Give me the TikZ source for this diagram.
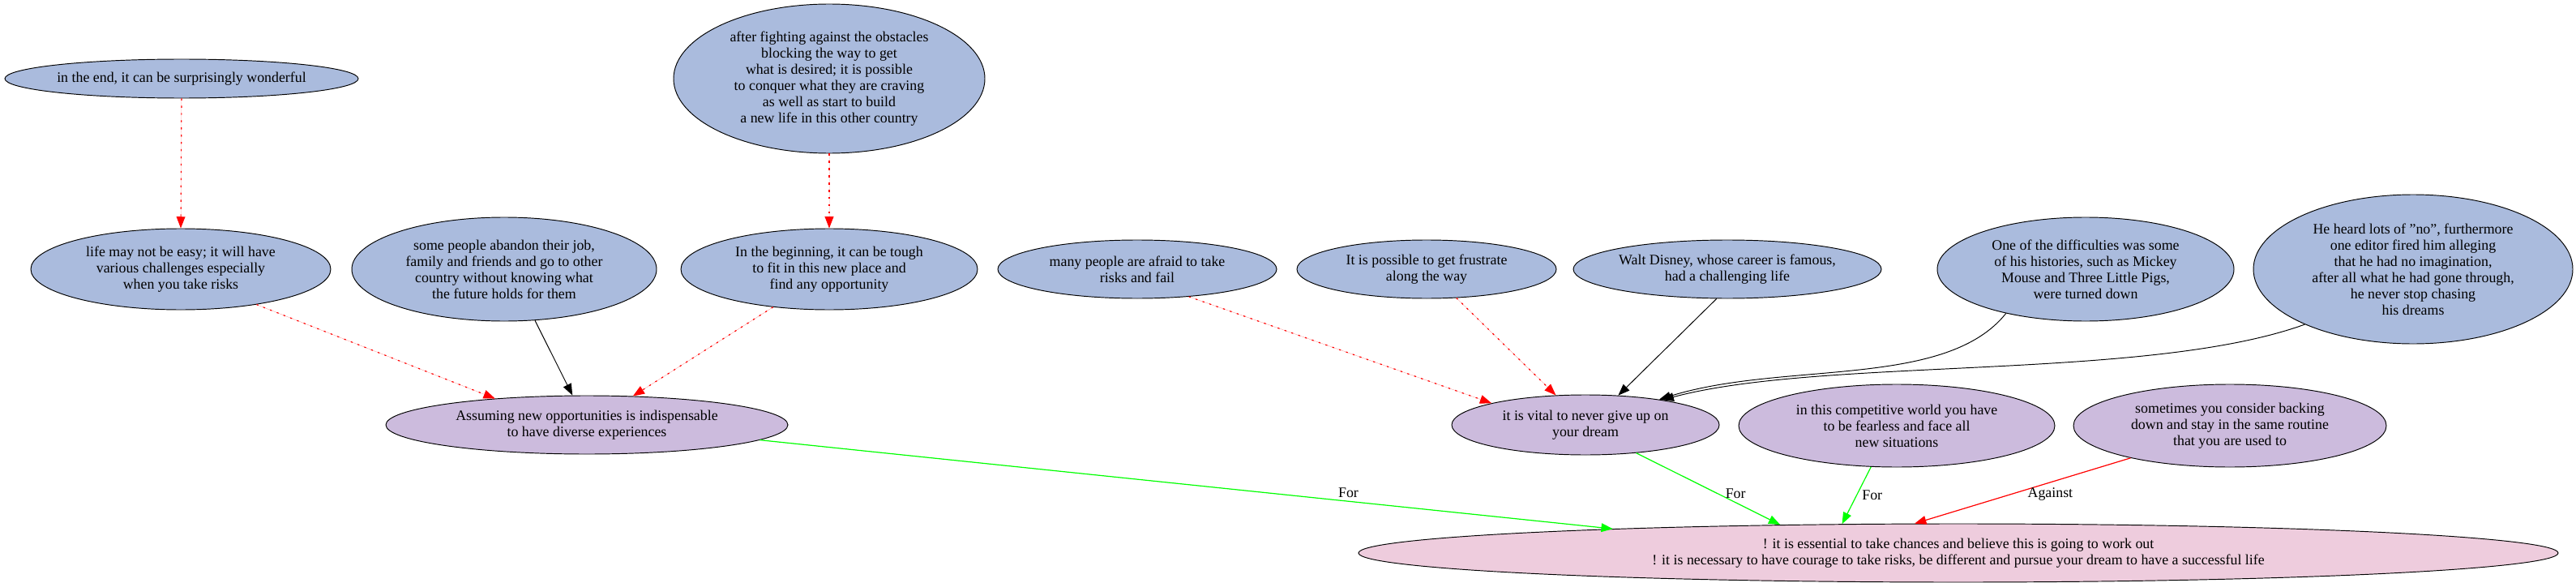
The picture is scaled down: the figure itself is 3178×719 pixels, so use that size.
\documentclass[tikz,border=0pt]{standalone}
\usepackage{fontspec}
\setmainfont{Liberation Serif}
\usetikzlibrary{shapes.geometric, arrows.meta}
\tikzset{>={Triangle[length=12pt,width=9pt]}}
\newdimen\pxu \pxu=0.84pt
\definecolor{premisefill}{HTML}{AABBDD}
\definecolor{claimfill}{HTML}{CCBBDD}
\definecolor{conclfill}{HTML}{EECCDD}

\begin{document}
\begin{tikzpicture}[x=0.84pt, y=-0.84pt, font=\fontsize{15}{16.8}\selectfont, premise/.style={ellipse, draw=black, line width=0.8pt, fill=premisefill, align=center, inner xsep=-30pt, inner ysep=-15pt}, claim/.style={premise, fill=claimfill}, conclusion/.style={premise, fill=conclfill}, attack/.style={->, draw=red, fill=red, line width=1pt, dash pattern=on 2pt off 5.5pt}, backing/.style={->, draw=black, line width=0.8pt}, pro/.style={->, draw=green, fill=green, line width=1pt}, con/.style={->, draw=red, fill=red, line width=1pt}, lbl/.style={inner sep=2pt, text=black, fill=none, font=\fontsize{15}{16.8}\selectfont}]
    \useasboundingbox (0,0) rectangle (3178,719);

    %Nodes
    \node[premise, minimum width=436\pxu, minimum height=48\pxu](wonderful) at (224,97){in the end, it can be surprisingly wonderful};
    \node[premise, minimum width=370\pxu, minimum height=100\pxu](easy) at (223,332){life may not be easy; it will have\\various challenges especially\\when you take risks};
    \node[premise, minimum width=376\pxu, minimum height=128\pxu](abandon) at (622,332){some people abandon their job,\\family and friends and go to other\\country without knowing what\\the future holds for them};
    \node[premise, minimum width=384\pxu, minimum height=184\pxu](fighting) at (1023,97){after fighting against the obstacles\\blocking the way to get\\what is desired; it is possible\\to conquer what they are craving\\as well as start to build\\a new life in this other country};
    \node[premise, minimum width=366\pxu, minimum height=100\pxu](beginning) at (1023,332){In the beginning, it can be tough\\to fit in this new place and\\find any opportunity};
    \node[premise, minimum width=344\pxu, minimum height=72\pxu](afraid) at (1403,332){many people are afraid to take\\risks and fail};
    \node[premise, minimum width=320\pxu, minimum height=72\pxu](frustrate) at (1760,332){It is possible to get frustrate\\along the way};
    \node[premise, minimum width=380\pxu, minimum height=72\pxu](disney) at (2131,332){Walt Disney, whose career is famous,\\had a challenging life};
    \node[premise, minimum width=366\pxu, minimum height=128\pxu](histories) at (2573,332){One of the difficulties was some\\of his histories, such as Mickey\\Mouse and Three Little Pigs,\\were turned down};
    \node[premise, minimum width=394\pxu, minimum height=184\pxu](editor) at (2977,332){He heard lots of "no", furthermore\\one editor fired him alleging\\that he had no imagination,\\after all what he had gone through,\\he never stop chasing\\his dreams};
    \node[claim, minimum width=496\pxu, minimum height=72\pxu](assuming) at (724,524){Assuming new opportunities is indispensable\\to have diverse experiences};
    \node[claim, minimum width=330\pxu, minimum height=74\pxu](vital) at (1956,524){it is vital to never give up on\\your dream};
    \node[claim, minimum width=390\pxu, minimum height=102\pxu](fearless) at (2340,525){in this competitive world you have\\to be fearless and face all\\new situations};
    \node[claim, minimum width=386\pxu, minimum height=102\pxu](routine) at (2751,525){sometimes you consider backing\\down and stay in the same routine\\that you are used to};
    \node[conclusion, minimum width=1480\pxu, minimum height=72\pxu](risks) at (2416,682){! it is essential to take chances and believe this is going to work out\\! it is necessary to have courage to take risks, be different and pursue your dream to have a successful life};

    %Lines
    \draw[attack] (wonderful.south) -- (easy.north);
    \draw[attack] (fighting.south) -- (beginning.north);
    \draw[attack] (easy.-25.5) -- (assuming.164.7);
    \draw[backing] (abandon.-59.3) -- (assuming.116.6);
    \draw[attack] (beginning.-146.7) -- (assuming.32.7);
    \draw[attack] (afraid.-28) -- (vital.167.6);
    \draw[attack] (frustrate.-44) -- (vital.135.8);
    \draw[backing] (disney.-110.4) -- (vital.42);
    \draw[backing] (histories.-151.6) .. controls (2400,480) and (2200,445) .. (vital.19);
    \draw[backing] (editor.-153.4) .. controls (2650,470) and (2250,440) .. (vital.18);
    \draw[pro] (assuming.-5.9) -- node[lbl, pos=0.69, above=1pt]{For} (risks.176.2);
    \draw[pro] (vital.-29) -- node[lbl, pos=0.57, right=5pt]{For} (risks.171.2);
    \draw[pro] (fearless.-122) -- node[lbl, pos=0.49, right=3pt]{For} (risks.166);
    \draw[con] (routine.-162.8) -- node[lbl, pos=0.55, right=14pt]{Against} (risks.146.8);

\end{tikzpicture}
\end{document}
